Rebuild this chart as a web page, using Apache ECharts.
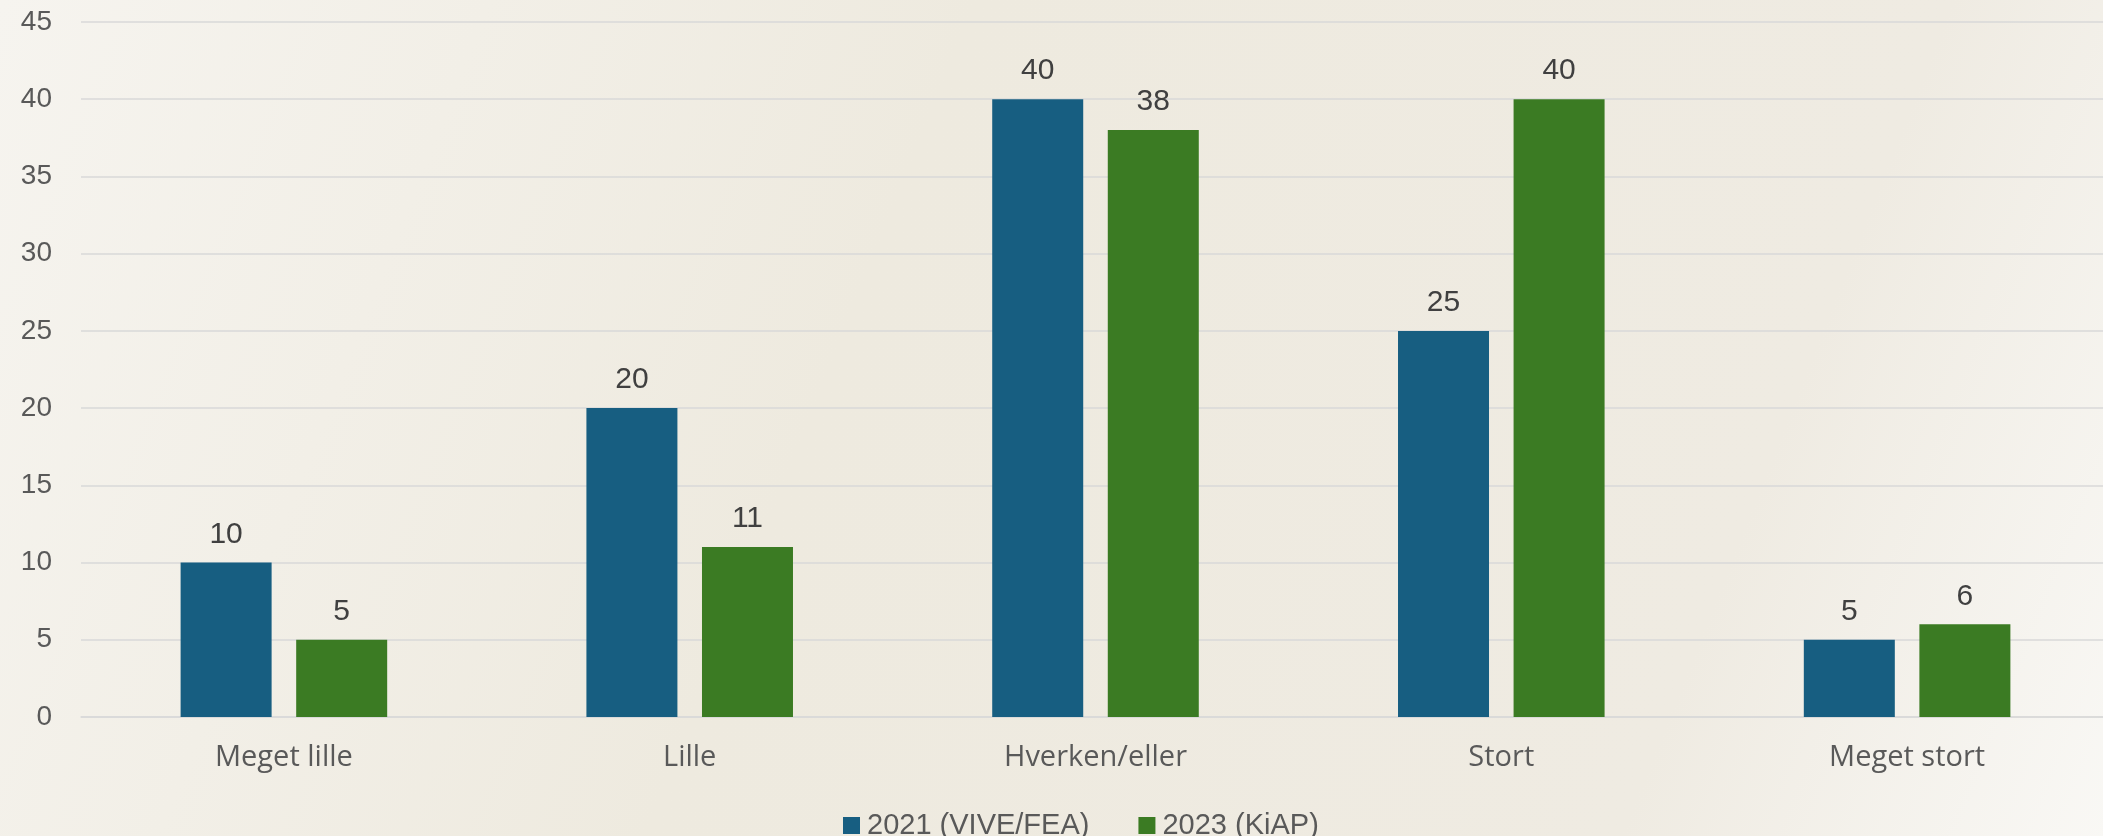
<!DOCTYPE html>
<html>
<head>
<meta charset="utf-8">
<script src="https://cdn.jsdelivr.net/npm/echarts@6/dist/echarts.min.js"></script>
<style>
html,body{margin:0;padding:0;width:2103px;height:836px;overflow:hidden;}
#c{width:2110px;height:836px;}
</style>
</head>
<body>
<div id="c"></div>
<script>
const categories = ['Meget lille', 'Lille', 'Hverken/eller', 'Stort', 'Meget stort'];
const seriesNames = ['2021 (VIVE/FEA)', '2023 (KiAP)'];
const values2021 = [10, 20, 40, 25, 5];
const values2023 = [5, 11, 38, 40, 6];
const yTicks = [0, 5, 10, 15, 20, 25, 30, 35, 40, 45];

const chart = echarts.init(document.getElementById('c'));
const labelStyle = {show: true, position: 'top', distance: 13, color: '#404040', fontSize: 30, fontFamily: 'Liberation Sans, Arial, sans-serif'};
chart.setOption({
  backgroundColor: {
    type: 'linear', x: 0, y: 0, x2: 1, y2: 1,
    colorStops: [
      {offset: 0, color: '#F6F4EF'},
      {offset: 0.4, color: '#EEEADF'},
      {offset: 0.8, color: '#EFEBE2'},
      {offset: 1, color: '#F9F8F5'}
    ]
  },
  animation: false,
  grid: {left: 81, right: 0, top: 22, bottom: 119, containLabel: false, outerBoundsMode: 'none'},
  legend: {
    data: seriesNames,
    top: 806, left: 838,
    itemWidth: 17, itemHeight: 17, itemGap: 49,
    icon: 'rect',
    textStyle: {color: '#595959', fontSize: 29, padding: [0, 0, 0, 2], fontFamily: 'Liberation Sans, Arial, sans-serif'}
  },
  xAxis: {
    type: 'category',
    data: categories,
    axisLine: {lineStyle: {color: '#D9D9D9', width: 1.5}},
    axisTick: {show: false},
    axisLabel: {color: '#595959', fontSize: 29, margin: 26, fontFamily: 'Open Sans, Noto Sans, sans-serif'}
  },
  yAxis: {
    type: 'value',
    min: yTicks[0], max: yTicks[yTicks.length - 1], interval: 5,
    axisLine: {show: false},
    axisTick: {show: false},
    splitLine: {lineStyle: {color: '#D9D9D9', width: 1.5}},
    axisLabel: {color: '#595959', fontSize: 28, margin: 29, fontFamily: 'Liberation Sans, Arial, sans-serif'}
  },
  series: [
    {name: seriesNames[0], type: 'bar', data: values2021, barWidth: 91, barGap: '27%', itemStyle: {color: '#175E81'}, label: labelStyle},
    {name: seriesNames[1], type: 'bar', data: values2023, barWidth: 91, barGap: '27%', itemStyle: {color: '#3B7B23'}, label: labelStyle}
  ]
});
</script>
</body>
</html>
